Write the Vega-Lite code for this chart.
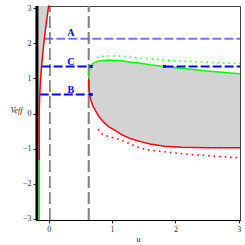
{
  "$schema": "https://vega.github.io/schema/vega-lite/v6.json",
  "width": 204,
  "height": 214,
  "autosize": {"type": "none"},
  "padding": {"left": 36, "top": 6, "right": 5, "bottom": 25},
  "config": {
    "view": {"stroke": "#444", "strokeWidth": 1},
    "axis": {"grid": false, "labelFont": "Liberation Serif", "labelFontSize": 8, "labelColor": "#333", "tickColor": "#333", "tickSize": 3, "domainColor": "#000", "titleFont": "Liberation Serif", "titleFontStyle": "italic", "titleFontWeight": "normal", "titleFontSize": 8, "titleColor": "#222", "labelFlush": false, "labelOverlap": false, "format": "d"},
    "axisY": {"labelOverlap": false, "labelSeparation": 0},
    "axisLeft": {"labelOverlap": false}
  },
  "datasets": {
    "region": [
      {"u": 0.632, "lower": 1.0, "upper": 1.0},
      {"u": 0.635, "lower": 0.8, "upper": 1.12},
      {"u": 0.645, "lower": 0.57, "upper": 1.25},
      {"u": 0.66, "lower": 0.42, "upper": 1.33},
      {"u": 0.7, "lower": 0.2, "upper": 1.42},
      {"u": 0.75, "lower": 0.05, "upper": 1.47},
      {"u": 0.8, "lower": -0.1, "upper": 1.5},
      {"u": 0.87, "lower": -0.25, "upper": 1.51},
      {"u": 0.95, "lower": -0.38, "upper": 1.52},
      {"u": 1.05, "lower": -0.48, "upper": 1.51},
      {"u": 1.15, "lower": -0.6, "upper": 1.5},
      {"u": 1.3, "lower": -0.72, "upper": 1.46},
      {"u": 1.45, "lower": -0.8, "upper": 1.43},
      {"u": 1.6, "lower": -0.87, "upper": 1.39},
      {"u": 1.83, "lower": -0.93, "upper": 1.34},
      {"u": 2.1, "lower": -0.96, "upper": 1.29},
      {"u": 2.5, "lower": -0.975, "upper": 1.21},
      {"u": 3.02, "lower": -0.975, "upper": 1.13}
    ],
    "leftRed": [
      {"V": -1.3, "u": -0.148},
      {"V": -0.5, "u": -0.15},
      {"V": 0.0, "u": -0.15},
      {"V": 0.54, "u": -0.141},
      {"V": 1.0, "u": -0.127},
      {"V": 1.34, "u": -0.112},
      {"V": 1.8, "u": -0.088},
      {"V": 2.13, "u": -0.068},
      {"V": 2.6, "u": -0.036},
      {"V": 3.06, "u": 0.0}
    ],
    "leftGreen": [
      {"V": -3.03, "u": -0.148},
      {"V": -1.3, "u": -0.148}
    ],
    "greenDot": [
      {"u": 0.76, "V": 1.6},
      {"u": 0.9, "V": 1.64},
      {"u": 1.1, "V": 1.64},
      {"u": 1.5, "V": 1.57},
      {"u": 2.0, "V": 1.5},
      {"u": 2.5, "V": 1.46},
      {"u": 3.02, "V": 1.42}
    ],
    "redDot": [
      {"u": 0.78, "V": -0.45},
      {"u": 0.85, "V": -0.6},
      {"u": 1.12, "V": -0.74},
      {"u": 1.47, "V": -1.0},
      {"u": 1.6, "V": -1.04},
      {"u": 2.07, "V": -1.14},
      {"u": 2.5, "V": -1.2},
      {"u": 3.02, "V": -1.26}
    ],
    "levels": [
      {"level": "A", "seg": "A1", "u": -0.068, "V": 2.13},
      {"level": "A", "seg": "A1", "u": 3.02, "V": 2.13},
      {"level": "C", "seg": "C1", "u": -0.112, "V": 1.34},
      {"level": "C", "seg": "C1", "u": 0.68, "V": 1.34},
      {"level": "C", "seg": "C2", "u": 1.83, "V": 1.34},
      {"level": "C", "seg": "C2", "u": 3.02, "V": 1.34},
      {"level": "B", "seg": "B1", "u": -0.141, "V": 0.54},
      {"level": "B", "seg": "B1", "u": 0.68, "V": 0.54}
    ],
    "labels": [
      {"label": "A", "u": 0.35, "V": 2.28},
      {"label": "C", "u": 0.35, "V": 1.48},
      {"label": "B", "u": 0.35, "V": 0.68}
    ],
    "markers": [
      {"u": 0.67, "V": 1.34},
      {"u": 0.67, "V": 0.54},
      {"u": 1.83, "V": 1.34}
    ],
    "vlines": [
      {"u": -0.185, "kind": "wall"},
      {"u": 0.02, "kind": "black"},
      {"u": 0.632, "kind": "gray"}
    ]
  },
  "encoding": {
    "x": {"type": "quantitative", "scale": {"domain": [-0.2, 3.02], "nice": false, "zero": false}, "axis": {"values": [0, 1, 2, 3], "title": "u", "titlePadding": 2, "labelPadding": 2, "labelOverlap": false}},
    "y": {"type": "quantitative", "scale": {"domain": [-3.03, 3.06], "nice": false, "zero": false}, "axis": {"values": [-3, -2, -1, 0, 1, 2, 3], "title": "Veff", "titleAngle": 0, "titleX": -20, "titleY": 104, "titleAlign": "center", "titleBaseline": "middle", "labelPadding": 2, "labelOverlap": false}}
  },
  "layer": [
    {
      "data": {"name": "region"},
      "mark": {"type": "area", "color": "#d3d3d3", "opacity": 1},
      "encoding": {
        "x": {"field": "u"},
        "y": {"field": "upper"},
        "y2": {"field": "lower"}
      }
    },
    {
      "data": {"name": "leftRed"},
      "mark": {"type": "area", "orient": "horizontal", "color": "#d3d3d3"},
      "encoding": {
        "y": {"field": "V"},
        "x": {"field": "u"},
        "x2": {"datum": -0.18}
      }
    },
    {
      "data": {"name": "vlines"},
      "transform": [{"filter": "datum.kind == 'wall'"}],
      "mark": {"type": "rule", "color": "#000", "strokeWidth": 3},
      "encoding": {"x": {"field": "u"}, "y": {"datum": -3.03}, "y2": {"datum": 3.06}}
    },
    {
      "data": {"name": "vlines"},
      "transform": [{"filter": "datum.kind == 'black'"}],
      "mark": {"type": "rule", "color": "#222", "strokeWidth": 1, "strokeDash": [12, 4]},
      "encoding": {"x": {"field": "u"}, "y": {"datum": -3.03}, "y2": {"datum": 3.06}}
    },
    {
      "data": {"name": "vlines"},
      "transform": [{"filter": "datum.kind == 'gray'"}],
      "mark": {"type": "rule", "color": "#808080", "strokeWidth": 2, "strokeDash": [12, 4]},
      "encoding": {"x": {"field": "u"}, "y": {"datum": -3.03}, "y2": {"datum": 3.06}}
    },
    {
      "data": {"name": "region"},
      "mark": {"type": "line", "color": "#00ff00", "strokeWidth": 1.5},
      "encoding": {"x": {"field": "u"}, "y": {"field": "upper"}}
    },
    {
      "data": {"name": "region"},
      "mark": {"type": "line", "color": "#ff0000", "strokeWidth": 1.5},
      "encoding": {"x": {"field": "u"}, "y": {"field": "lower"}}
    },
    {
      "data": {"name": "greenDot"},
      "mark": {"type": "line", "color": "#33ff33", "strokeWidth": 1.5, "strokeDash": [1.5, 4]},
      "encoding": {"x": {"field": "u"}, "y": {"field": "V"}}
    },
    {
      "data": {"name": "redDot"},
      "mark": {"type": "line", "color": "#ff0000", "strokeWidth": 1.5, "strokeDash": [1.5, 4]},
      "encoding": {"x": {"field": "u"}, "y": {"field": "V"}}
    },
    {
      "data": {"name": "leftGreen"},
      "mark": {"type": "line", "color": "#00ff00", "strokeWidth": 1.5},
      "encoding": {"x": {"field": "u"}, "y": {"field": "V"}, "order": {"field": "V", "type": "quantitative"}}
    },
    {
      "data": {"name": "levels"},
      "transform": [{"filter": "datum.level == 'A'"}],
      "mark": {"type": "line", "color": "#5a5aff", "strokeWidth": 2, "strokeDash": [9, 3], "opacity": 0.85},
      "encoding": {"x": {"field": "u"}, "y": {"field": "V"}, "detail": {"field": "seg"}}
    },
    {
      "data": {"name": "levels"},
      "transform": [{"filter": "datum.level != 'A'"}],
      "mark": {"type": "line", "color": "#0000ff", "strokeWidth": 2, "strokeDash": [9, 3]},
      "encoding": {"x": {"field": "u"}, "y": {"field": "V"}, "detail": {"field": "seg"}}
    },
    {
      "data": {"name": "leftRed"},
      "mark": {"type": "trail", "color": "#ff0000"},
      "encoding": {"x": {"field": "u"}, "y": {"field": "V"}, "order": {"field": "V", "type": "quantitative"}, "size": {"value": 1.5}}
    },
    {
      "data": {"name": "markers"},
      "mark": {"type": "square", "color": "#0000ff", "filled": true, "size": 10, "opacity": 1},
      "encoding": {"x": {"field": "u"}, "y": {"field": "V"}}
    },
    {
      "data": {"name": "labels"},
      "mark": {"type": "text", "color": "#0000ff", "font": "Liberation Serif", "fontWeight": "bold", "fontSize": 10, "align": "center", "baseline": "middle"},
      "encoding": {"x": {"field": "u"}, "y": {"field": "V"}, "text": {"field": "label"}}
    }
  ]
}
